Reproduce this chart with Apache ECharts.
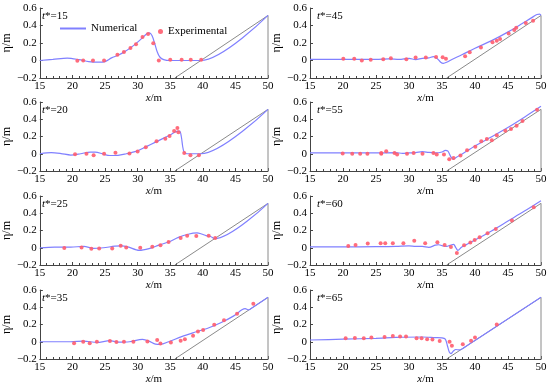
<!DOCTYPE html>
<html><head><meta charset="utf-8">
<script src="https://cdn.jsdelivr.net/npm/echarts@6/dist/echarts.min.js"></script>
<style>html,body{margin:0;padding:0;background:#fff}#c{width:550px;height:386px}</style>
</head><body><div id="c"></div><script>
// Panel times (t*)
const times = ['15','45','20','55','25','60','35','65'];
// Beach profile (1:20 slope) and vertical end wall
const beach = [[35.7,-0.2],[50,0.515],[50,-0.2]];

// Numerical results
const num15 = [[15,0],[17,0.012],[19.2,0.027],[21,0.01],[22.5,-0.012],[24,-0.018],[25,-0.012],[26,0.03],[27,0.06],[28,0.1],[29,0.15],[30,0.21],[30.75,0.26],[31.4,0.305],[31.8,0.315],[32.2,0.285],[32.6,0.2],[33,0.1],[33.4,0.04],[34,0.01],[35,0],[39.7,0],[50,0.515]];
const num45 = [[15,0.012],[20,0.012],[25,0.012],[27,0.018],[28.5,0.012],[30,0.025],[31,0.01],[32,0.025],[33,0.03],[33.7,0.045],[34.3,0.02],[34.8,-0.02],[35.2,-0.032],[35.7,-0.02],[36.5,0.012],[38,0.065],[40,0.14],[42.6,0.23],[45.1,0.33],[47.1,0.42],[48.6,0.49],[49.4,0.525],[49.8,0.53],[50,0.515]];
const num20 = [[15,0],[16.75,0.012],[18.25,0.002],[19.75,-0.015],[21.25,0],[22.75,0.02],[23.5,0.02],[24.75,-0.005],[25.75,-0.02],[27,-0.018],[28.25,0],[29.75,0.027],[31.25,0.08],[32.75,0.135],[34.25,0.19],[35.25,0.23],[36,0.26],[36.45,0.262],[36.7,0.2],[36.9,0.09],[37.1,0.025],[37.5,0],[39.7,0],[50,0.515]];
const num55 = [[15,0.01],[20,0.01],[25,0.01],[28,0.012],[29,0.005],[30,0.01],[31,0.012],[32,0.025],[33,0.015],[34,0.01],[35,0.02],[35.5,0.04],[35.9,0.03],[36.3,-0.03],[36.7,-0.065],[37.2,-0.04],[38,-0.005],[40,0.09],[42.6,0.2],[45.1,0.31],[47.6,0.43],[50,0.55]];
const num25 = [[15,0],[17.25,0.008],[19.75,0.008],[21.75,0.015],[23.25,-0.008],[24.75,0],[26.5,0.018],[27.5,0.022],[28.5,0.01],[30.25,-0.03],[31.75,-0.01],[33.25,0.03],[34.75,0.067],[36.25,0.12],[37.75,0.157],[39.1,0.172],[39.8,0.16],[40.5,0.14],[41.2,0.13],[41.8,0.105],[50,0.515]];
const num60 = [[15,0.01],[20,0.01],[25,0.012],[28,0.015],[30,0.022],[31,0.015],[32,0.015],[33,0.005],[34,0.03],[34.5,0.035],[35.2,0.02],[35.7,0.015],[36.2,0.028],[36.75,0.04],[37.1,0.0],[37.4,-0.03],[38,0.008],[40,0.09],[42.5,0.195],[45,0.31],[47.5,0.425],[50,0.545]];
const num35 = [[15,0],[19.75,0],[21.75,0.008],[23.75,-0.008],[25.75,0.012],[27,-0.005],[28.75,0],[30.75,0.027],[31.75,0.008],[32.75,-0.027],[33.5,-0.03],[34.75,0],[36.75,0.06],[38.75,0.11],[40.75,0.157],[42.75,0.22],[44.75,0.3],[46,0.37],[46.5,0.385],[47,0.37],[47.25,0.377],[50,0.515]];
const num65 = [[15,0.02],[20,0.03],[25,0.04],[28,0.05],[32,0.055],[34,0.048],[35,0.045],[35.5,0.03],[35.8,-0.04],[36.1,-0.12],[36.35,-0.137],[36.7,-0.11],[37.1,-0.09],[37.6,-0.095],[38.1,-0.08],[39,-0.035],[40,0.015],[50,0.515]];

// Experimental measurements
const exp15 = [[20.75,-0.004],[21.65,0],[23.15,0],[24.85,0],[26.9,0.065],[27.9,0.097],[28.9,0.143],[29.75,0.185],[30.75,0.268],[31.6,0.302],[32.4,0.198],[33.25,0],[35,0.008],[36.75,0.008],[38.15,0.008],[39.75,0.01]];
const exp45 = [[20.05,0.02],[21.7,0.02],[22.85,0],[24.2,0.008],[26.1,0.015],[27.25,0.027],[29.6,0.015],[31,0.035],[32.55,0.035],[34.1,0.04],[35.1,0.038],[35.6,0.02],[38.5,0.05],[39.2,0.095],[40.9,0.15],[42.65,0.21],[43.3,0.225],[43.8,0.245],[45.1,0.31],[45.95,0.35],[46.25,0.375],[47.7,0.43],[48.8,0.455]];
const exp20 = [[20.4,-0.005],[22.15,0],[23.25,-0.018],[24.85,0],[26.6,0.012],[28.75,0.004],[30,0.027],[31.25,0.074],[32.9,0.144],[34.25,0.175],[34.9,0.206],[35.6,0.264],[36.1,0.3],[36.25,0.25],[37.15,0.008],[38.1,-0.018],[39.4,-0.018]];
const exp55 = [[19.95,0.004],[21.4,0],[22.6,0],[23.7,0],[25.8,0],[25.8,0.01],[26.55,0.03],[27.8,0.008],[28.2,-0.008],[29.7,0],[30.7,0.008],[32.05,0],[33.7,0.008],[34.2,-0.008],[35.3,-0.008],[36.1,-0.063],[36.75,-0.05],[37.8,-0.02],[38.8,0.04],[40.05,0.08],[40.95,0.145],[41.8,0.17],[42.55,0.157],[43.3,0.215],[44.6,0.267],[45.45,0.286],[46.3,0.325],[47.2,0.38],[49.4,0.51]];
const exp25 = [[18.75,-0.004],[21.4,0.004],[22.9,-0.012],[24.1,-0.008],[26.1,-0.008],[27.4,0.024],[28.25,0.004],[30.4,0],[32.25,0.012],[33.5,0.03],[34.75,0.067],[36.6,0.114],[37.6,0.14],[39,0.137],[40.9,0.14],[41.9,0.114]];
const exp60 = [[20.8,0.02],[21.9,0.032],[23.75,0.048],[25.7,0.052],[26.4,0.052],[27.55,0.052],[29.15,0.052],[30.8,0.08],[32.45,0.052],[34.3,0.063],[35.4,0.032],[36.35,0.008],[37.25,-0.06],[38.35,0.028],[39.3,0.06],[39.95,0.09],[40.7,0.123],[41.9,0.167],[43.15,0.218],[45.6,0.317],[48.9,0.47]];
const exp35 = [[20.25,-0.016],[21.65,0],[22.65,-0.016],[23.75,0],[25.75,0.008],[26.75,-0.004],[27.9,0],[29.35,0],[31.5,0.004],[33,0.02],[33.5,-0.02],[35.1,-0.008],[36.6,0.012],[37.25,0.03],[38.5,0.07],[39.25,0.12],[40.05,0.137],[41.75,0.196],[43.25,0.25],[45.25,0.325],[47.75,0.44]];
const exp65 = [[20.4,0.04],[21.8,0.043],[23.15,0.04],[24.3,0.05],[26.3,0.055],[27.55,0.066],[28.65,0.062],[29.55,0.062],[31.15,0.04],[31.9,0.04],[32.75,0.03],[33.55,0.027],[34.65,0.008],[36.15,0],[36.5,-0.047],[38.15,-0.03],[39.4,0.012],[40,0.05],[43.3,0.2]];

const nums = [num15,num45,num20,num55,num25,num60,num35,num65];
const exps = [exp15,exp45,exp20,exp55,exp25,exp60,exp35,exp65];

const FONT = 'Liberation Serif';
const BLUE = '#8080ff';
const lefts = [35, 310], widths = [233, 231];
const tops = [8, 102, 196, 290], heights = [70, 69, 69, 69];

const grids = [], xAxes = [], yAxes = [], series = [], graphics = [];
for (let i = 0; i < 8; i++) {
  const c = i % 2, r = Math.floor(i / 2);
  grids.push({left: lefts[c], top: tops[r], width: widths[c], height: heights[r]});
  xAxes.push({
    gridIndex: i, type: 'value', min: 15, max: 50, interval: 5,
    name: '{i|x}/m', nameLocation: 'middle', nameGap: 9,
    nameTextStyle: {fontFamily: FONT, fontSize: 11, color: '#000', rich: {i: {fontStyle: 'italic', fontFamily: FONT, fontSize: 11, color: '#000'}}},
    axisLine: {onZero: false, lineStyle: {color: '#444', width: 1}},
    axisTick: {inside: true, length: 3, lineStyle: {color: '#444'}},
    minorTick: {show: true, splitNumber: 5, length: 2, lineStyle: {color: '#444'}},
    splitLine: {show: false},
    axisLabel: {margin: 3, fontFamily: FONT, fontSize: 11, color: '#000'}
  });
  yAxes.push({
    gridIndex: i, type: 'value', min: -0.2, max: 0.6, interval: 0.2,
    name: 'η/m', nameLocation: 'middle', nameGap: 21, nameRotate: 90,
    nameTextStyle: {fontFamily: FONT, fontSize: 12, color: '#000'},
    axisLine: {show: true, onZero: false, lineStyle: {color: '#444', width: 1}},
    axisTick: {show: true, inside: true, length: 3, lineStyle: {color: '#444'}},
    splitLine: {show: false},
    axisLabel: {margin: 3, fontFamily: FONT, fontSize: 11, color: '#000',
      formatter: v => Math.abs(v) < 1e-9 ? '0' : v.toFixed(1).replace('-', '−')}
  });
  series.push({type: 'line', name: 'beach', xAxisIndex: i, yAxisIndex: i, data: beach,
    showSymbol: false, symbol: 'none', lineStyle: {color: '#8a8a8a', width: 1}, silent: true, z: 1});
  series.push({type: 'line', name: 'Numerical', xAxisIndex: i, yAxisIndex: i, data: nums[i],
    showSymbol: false, symbol: 'none', smooth: 0.3, itemStyle: {color: BLUE},
    lineStyle: {color: BLUE, width: 1.2}, z: 2});
  series.push({type: 'scatter', name: 'Experimental', xAxisIndex: i, yAxisIndex: i, data: exps[i],
    symbol: 'circle', symbolSize: 4, itemStyle: {color: '#ff5c6e', opacity: 0.9}, z: 3});
  graphics.push({type: 'text', left: lefts[c] + 7, top: tops[r] + 3,
    style: {text: '{i|t}*=' + times[i], font: '11px ' + FONT, fill: '#000',
      rich: {i: {fontStyle: 'italic', fontFamily: FONT, fontSize: 11, fill: '#000'}}}});
}

const chart = echarts.init(document.getElementById('c'), null, {renderer: 'canvas'});
chart.setOption({
  animation: false,
  backgroundColor: '#fff',
  grid: grids, xAxis: xAxes, yAxis: yAxes, series: series,
  graphic: graphics,
  legend: [
    {data: [{name: 'Numerical', itemStyle: {opacity: 0}}], left: 54, top: 18, itemWidth: 26, itemHeight: 10, itemGap: 5,
      textStyle: {fontFamily: FONT, fontSize: 11, color: '#000'}},
    {data: ['Experimental'], left: 153, top: 21, itemWidth: 5, itemHeight: 5, itemGap: 5,
      textStyle: {fontFamily: FONT, fontSize: 11, color: '#000'}}
  ]
});
</script></body></html>
